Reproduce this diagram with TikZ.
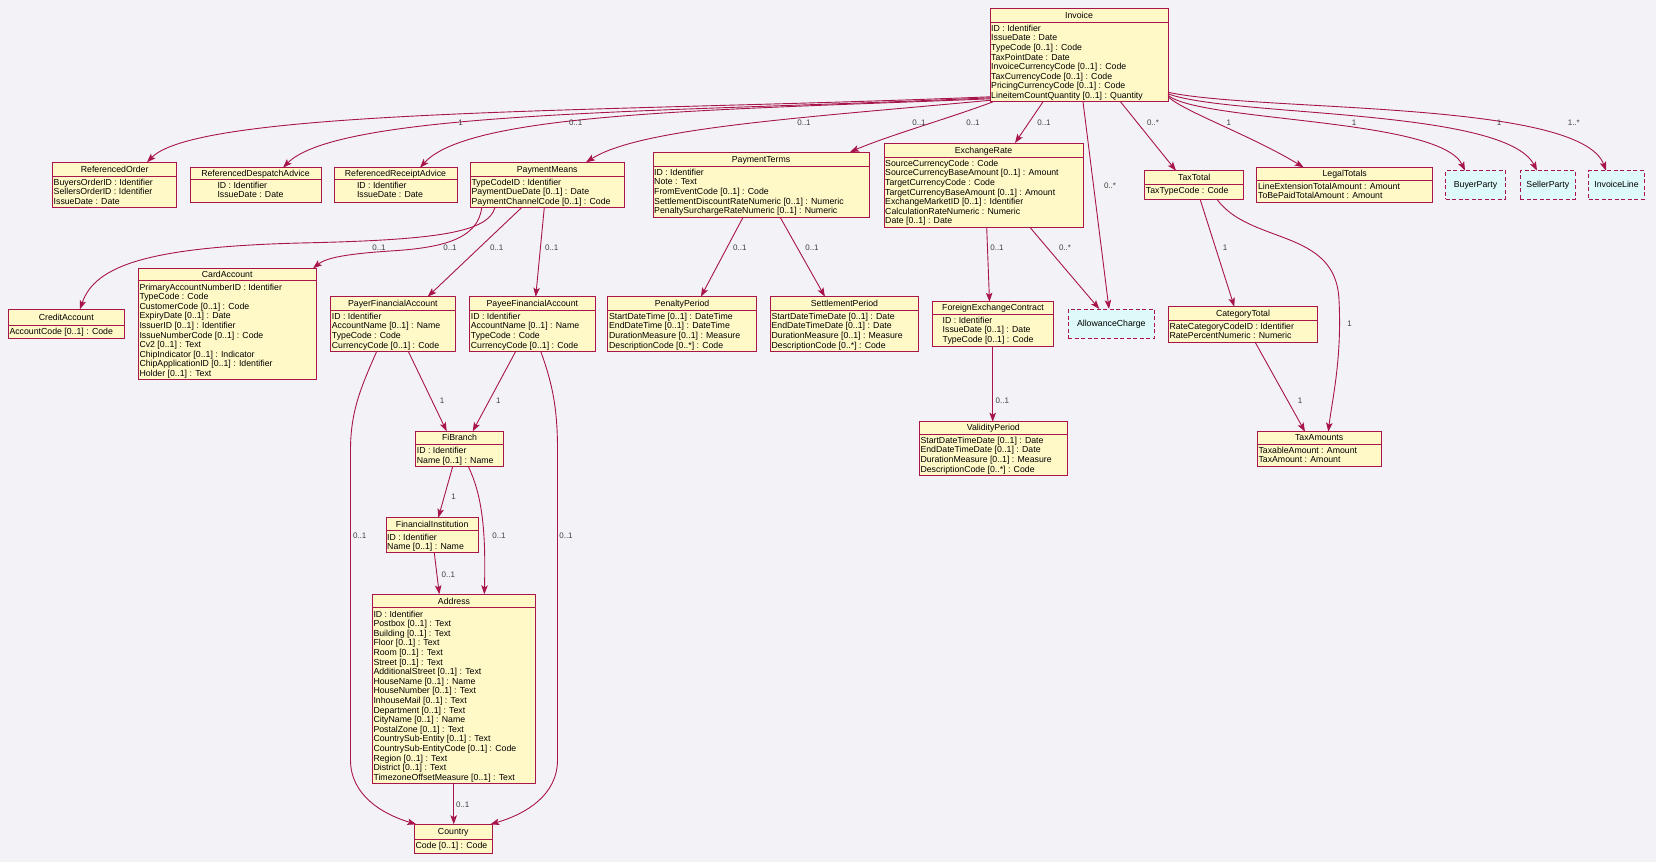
\documentclass[tikz,border=0pt]{standalone}
\usepackage{fontspec}
\setmainfont{Liberation Sans}
\usetikzlibrary{arrows.meta}
\definecolor{bgc}{HTML}{F3F3F7}
\definecolor{clsfill}{HTML}{FFF9C8}
\definecolor{brd}{HTML}{A8144C}
\definecolor{reffill}{HTML}{DDF9F9}
\definecolor{lblc}{HTML}{404040}
\tikzset{
 classbox/.style={draw=brd, fill=clsfill, line width=0.9pt, inner sep=0pt, outer sep=0pt},
 refbox/.style={draw=brd, fill=reffill, line width=0.9pt, dash pattern=on 4pt off 2.5pt, inner sep=0pt, outer sep=0pt},
 sepline/.style={draw=brd, line width=0.9pt},
 txt/.style={inner sep=0pt, outer sep=0pt, font=\fontsize{8.75}{9.6}\selectfont, text=black},
 lbl/.style={inner sep=0pt, outer sep=0pt, font=\fontsize{8}{9}\selectfont, text=lblc},
 conn/.style={draw=brd, line width=0.9pt, -{Stealth[length=9pt,width=6.5pt,inset=2pt]}},
}
% name, left, top, right, separator, bottom, title, text x, lines
\newcommand{\umlclass}[9]{%
 \pgfmathsetmacro{\uw}{#4-#2}\pgfmathsetmacro{\uh}{#6-#3}%
 \node[classbox, minimum width=\uw pt, minimum height=\uh pt, anchor=north west] (#1) at (#2,-#3) {};
 \draw[sepline] (#2,-#5) -- (#4,-#5);
 \node[txt, anchor=base] (#1-title) at ({(#2+#4)/2},{-(#3+#5)/2-3.1}) {#7};
 \foreach \itm [count=\cnt] in {#9} {\node[txt, anchor=base west] (#1-\cnt) at (#8,{-(#5+9.3+9.6*(\cnt-1))}) {\itm};}
}
% name, left, top, right, bottom, title
\newcommand{\umlref}[6]{%
 \pgfmathsetmacro{\uw}{#4-#2}\pgfmathsetmacro{\uh}{#5-#3}%
 \node[refbox, minimum width=\uw pt, minimum height=\uh pt, anchor=north west] (#1) at (#2,-#3) {};
 \node[txt, anchor=base] (#1-title) at ({(#2+#4)/2},{-(#3+#5)/2-3.1}) {#6};
}
\begin{document}
\begin{tikzpicture}[x=1pt,y=1pt]
\useasboundingbox (0,0) rectangle (1656,-862);
\fill[bgc] (0,0) rectangle (1656,-862);

\umlclass{inv}{990}{8}{1168}{22}{101.8}{Invoice}{991.2}{{ID : Identifier},{IssueDate : Date},{TypeCode [0..1] : Code},{TaxPointDate : Date},{InvoiceCurrencyCode [0..1] : Code},{TaxCurrencyCode [0..1] : Code},{PricingCurrencyCode [0..1] : Code},{LineitemCountQuantity [0..1] : Quantity}}
\umlclass{refo}{52.5}{162.3}{176.8}{176}{207.5}{ReferencedOrder}{53.7}{{BuyersOrderID : Identifier},{SellersOrderID : Identifier},{IssueDate : Date}}
\umlclass{refd}{190}{167.7}{321}{179}{202.3}{ReferencedDespatchAdvice}{217.5}{{ID : Identifier},{IssueDate : Date}}
\umlclass{refr}{334}{167.7}{457}{179}{202.3}{ReferencedReceiptAdvice}{357}{{ID : Identifier},{IssueDate : Date}}
\umlclass{pm}{470.4}{162.3}{624}{176}{207.5}{PaymentMeans}{471.6}{{TypeCodeID : Identifier},{PaymentDueDate [0..1] : Date},{PaymentChannelCode [0..1] : Code}}
\umlclass{pt}{653}{152}{869}{166}{217}{PaymentTerms}{654.2}{{ID : Identifier},{Note : Text},{FromEventCode [0..1] : Code},{SettlementDiscountRateNumeric [0..1] : Numeric},{PenaltySurchargeRateNumeric [0..1] : Numeric}}
\umlclass{er}{884}{143}{1083}{157}{227.2}{ExchangeRate}{885.2}{{SourceCurrencyCode : Code},{SourceCurrencyBaseAmount [0..1] : Amount},{TargetCurrencyCode : Code},{TargetCurrencyBaseAmount [0..1] : Amount},{ExchangeMarketID [0..1] : Identifier},{CalculationRateNumeric : Numeric},{Date [0..1] : Date}}
\umlclass{tt}{1144.7}{170.7}{1243.8}{184.3}{199}{TaxTotal}{1145.9}{{TaxTypeCode : Code}}
\umlclass{lt}{1256.9}{167.3}{1432.5}{180}{202.3}{LegalTotals}{1258.1}{{LineExtensionTotalAmount : Amount},{ToBePaidTotalAmount : Amount}}
\umlref{buyer}{1445.6}{170.7}{1505.4}{199}{BuyerParty}
\umlref{seller}{1520.3}{170.7}{1575.3}{199}{SellerParty}
\umlref{invline}{1588.7}{170.7}{1644.4}{199}{InvoiceLine}
\umlclass{credit}{8.3}{309.3}{124.3}{325}{338.3}{CreditAccount}{9.5}{{AccountCode [0..1] : Code}}
\umlclass{card}{138.3}{268.3}{316}{280.7}{379.5}{CardAccount}{139.5}{{PrimaryAccountNumberID : Identifier},{TypeCode : Code},{CustomerCode [0..1] : Code},{ExpiryDate [0..1] : Date},{IssuerID [0..1] : Identifier},{IssueNumberCode [0..1] : Code},{Cv2 [0..1] : Text},{ChipIndicator [0..1] : Indicator},{ChipApplicationID [0..1] : Identifier},{Holder [0..1] : Text}}
\umlclass{payer}{330.7}{296.7}{455}{310}{351.4}{PayerFinancialAccount}{331.9}{{ID : Identifier},{AccountName [0..1] : Name},{TypeCode : Code},{CurrencyCode [0..1] : Code}}
\umlclass{payee}{469.7}{296.7}{595}{310}{351.4}{PayeeFinancialAccount}{470.9}{{ID : Identifier},{AccountName [0..1] : Name},{TypeCode : Code},{CurrencyCode [0..1] : Code}}
\umlclass{penalty}{607.9}{296.7}{756.3}{310}{351.4}{PenaltyPeriod}{609.1}{{StartDateTime [0..1] : DateTime},{EndDateTime [0..1] : DateTime},{DurationMeasure [0..1] : Measure},{DescriptionCode [0..*] : Code}}
\umlclass{settle}{770.4}{296.7}{918.5}{310}{351.4}{SettlementPeriod}{771.6}{{StartDateTimeDate [0..1] : Date},{EndDateTimeDate [0..1] : Date},{DurationMeasure [0..1] : Measure},{DescriptionCode [0..*] : Code}}
\umlclass{fec}{932.7}{301.7}{1053.3}{314}{346}{ForeignExchangeContract}{942.7}{{ID : Identifier},{IssueDate [0..1] : Date},{TypeCode [0..1] : Code}}
\umlref{allow}{1068.3}{309}{1154.3}{338.3}{AllowanceCharge}
\umlclass{cat}{1168.3}{306.7}{1317.7}{320}{342}{CategoryTotal}{1169.5}{{RateCategoryCodeID : Identifier},{RatePercentNumeric : Numeric}}
\umlclass{taxam}{1257.3}{431.7}{1381}{444}{466}{TaxAmounts}{1258.5}{{TaxableAmount : Amount},{TaxAmount : Amount}}
\umlclass{fib}{415.7}{431.3}{503.3}{444.3}{466.5}{FiBranch}{416.9}{{ID : Identifier},{Name [0..1] : Name}}
\umlclass{fin}{386}{517.7}{478.3}{530.7}{552.9}{FinancialInstitution}{387.2}{{ID : Identifier},{Name [0..1] : Name}}
\umlclass{addr}{372.3}{594.3}{535.7}{607.7}{783.5}{Address}{373.5}{{ID : Identifier},{Postbox [0..1] : Text},{Building [0..1] : Text},{Floor [0..1] : Text},{Room [0..1] : Text},{Street [0..1] : Text},{AdditionalStreet [0..1] : Text},{HouseName [0..1] : Name},{HouseNumber [0..1] : Text},{InhouseMail [0..1] : Text},{Department [0..1] : Text},{CityName [0..1] : Name},{PostalZone [0..1] : Text},{CountrySub-Entity [0..1] : Text},{CountrySub-EntityCode [0..1] : Code},{Region [0..1] : Text},{District [0..1] : Text},{TimezoneOffsetMeasure [0..1] : Text}}
\umlclass{country}{414.3}{824.3}{492.3}{839}{853.3}{Country}{415.5}{{Code [0..1] : Code}}
\umlclass{vp}{919.3}{421.7}{1067.3}{434}{475.4}{ValidityPeriod}{920.5}{{StartDateTimeDate [0..1] : Date},{EndDateTimeDate [0..1] : Date},{DurationMeasure [0..1] : Measure},{DescriptionCode [0..*] : Code}}

% Invoice connectors
\draw[conn] ([yshift=5]inv.south west) .. controls (620,-112) and (200,-108) .. ([xshift=94.5]refo.north west);
\draw[conn] ([yshift=4]inv.south west) .. controls (680,-112) and (340,-110) .. ([xshift=93]refd.north west);
\draw[conn] ([yshift=3]inv.south west) .. controls (720,-110) and (470,-112) .. ([xshift=86]refr.north west);
\draw[conn] ([yshift=1.5]inv.south west) .. controls (800,-118) and (640,-128) .. ([xshift=115.6]pm.north west);
\draw[conn] ([xshift=3]inv.south west) .. controls (950,-118) and (890,-135) .. ([xshift=197]pt.north west);
\draw[conn] ([xshift=53]inv.south west) -- ([xshift=131]er.north west);
\draw[conn] ([xshift=93]inv.south west) -- ([xshift=40.7]allow.north west);
\draw[conn] ([xshift=130.5]inv.south west) -- ([xshift=31.3]tt.north west);
\draw[conn] ([yshift=5]inv.south east) .. controls (1185,-112) and (1250,-135) .. ([xshift=46.7]lt.north west);
\draw[conn] ([yshift=6.5]inv.south east) .. controls (1200,-122) and (1440,-118) .. ([xshift=19.4]buyer.north west);
\draw[conn] ([yshift=8]inv.south east) .. controls (1230,-117) and (1505,-108) .. ([xshift=16.7]seller.north west);
\draw[conn] ([yshift=9.5]inv.south east) .. controls (1260,-112) and (1580,-100) .. ([xshift=17.3]invline.north west);

% PaymentMeans connectors
\draw[conn] ([xshift=24.6]pm.south west) .. controls (488,-232) and (440,-240) .. (300,-243) .. controls (150,-247) and (95,-265) .. ([xshift=71.7]credit.north west);
\draw[conn] ([xshift=11.3]pm.south west) .. controls (478,-240) and (440,-248) .. (390,-251) .. controls (345,-254) and (326,-258) .. ([xshift=-3]card.north east);
\draw[conn] ([xshift=51.3]pm.south west) -- ([xshift=97]payer.north west);
\draw[conn] ([xshift=73.9]pm.south west) -- ([xshift=66]payee.north west);

% PaymentTerms, ExchangeRate
\draw[conn] ([xshift=90.2]pt.south west) -- ([xshift=93]penalty.north west);
\draw[conn] ([xshift=127]pt.south west) -- ([xshift=54.5]settle.north west);
\draw[conn] ([xshift=102.7]er.south west) -- ([xshift=56.8]fec.north west);
\draw[conn] ([xshift=145.8]er.south west) -- ([xshift=31]allow.north west);
\draw[conn] ([xshift=60]fec.south west) -- ([xshift=73.4]vp.north west);

% TaxTotal
\draw[conn] ([xshift=55.3]tt.south west) -- ([xshift=66]cat.north west);
\draw[conn] ([xshift=72]tt.south west) .. controls (1250,-245) and (1336,-228) .. (1339,-300) .. controls (1342,-360) and (1332,-400) .. ([xshift=71]taxam.north west);
\draw[conn] ([xshift=86.7]cat.south west) -- ([xshift=47.7]taxam.north west);

% Financial accounts
\draw[conn] ([xshift=77.6]payer.south west) -- ([xshift=31]fib.north west);
\draw[conn] ([xshift=46]payee.south west) -- ([xshift=57]fib.north west);
\draw[conn] ([xshift=37]fib.south west) -- ([xshift=52.3]fin.north west);
\draw[conn] ([xshift=52.6]fib.south west) .. controls (482,-495) and (486,-530) .. ([xshift=112]addr.north west);
\draw[conn] ([xshift=48.3]fin.south west) -- ([xshift=67]addr.north west);
\draw[conn] ([xshift=81.4]addr.south west) -- ([xshift=39.4]country.north west);
\draw[conn] ([xshift=46]payer.south west) .. controls (362,-385) and (350.5,-410) .. (350.5,-450) -- (350.5,-760) .. controls (350.5,-795) and (382,-814) .. ([xshift=2]country.north west);
\draw[conn] ([xshift=71]payee.south west) .. controls (553,-385) and (557.5,-410) .. (557.5,-450) -- (557.5,-760) .. controls (557.5,-795) and (526,-814) .. ([xshift=-2]country.north east);

% multiplicity labels
\node[lbl] (m1) at (460.7,-123) {1};
\node[lbl] (m2) at (575.7,-123) {0..1};
\node[lbl] (m3) at (804,-123) {0..1};
\node[lbl] (m4) at (919,-123) {0..1};
\node[lbl] (m5) at (973,-123) {0..1};
\node[lbl] (m6) at (1044,-123) {0..1};
\node[lbl] (m7) at (1153,-123) {0..*};
\node[lbl] (m8) at (1228.8,-123) {1};
\node[lbl] (m9) at (1354,-123) {1};
\node[lbl] (m10) at (1499,-123) {1};
\node[lbl] (m11) at (1573.8,-123) {1..*};
\node[lbl] (m12) at (1110,-185.7) {0..*};
\node[lbl] (m13) at (379,-247.7) {0..1};
\node[lbl] (m14) at (450,-247.7) {0..1};
\node[lbl] (m15) at (496.7,-247.7) {0..1};
\node[lbl] (m16) at (551.7,-247.7) {0..1};
\node[lbl] (m17) at (739.8,-247.7) {0..1};
\node[lbl] (m18) at (812,-247.7) {0..1};
\node[lbl] (m19) at (997,-247.7) {0..1};
\node[lbl] (m20) at (1065,-247.7) {0..*};
\node[lbl] (m21) at (1225,-247.7) {1};
\node[lbl] (m22) at (1349.6,-324) {1};
\node[lbl] (m23) at (1300,-401) {1};
\node[lbl] (m24) at (1002.3,-401) {0..1};
\node[lbl] (m25) at (442,-401) {1};
\node[lbl] (m26) at (498.3,-401) {1};
\node[lbl] (m27) at (453.7,-496.7) {1};
\node[lbl] (m28) at (359.7,-535.7) {0..1};
\node[lbl] (m29) at (499,-535.7) {0..1};
\node[lbl] (m30) at (566,-535.7) {0..1};
\node[lbl] (m31) at (448.3,-574.3) {0..1};
\node[lbl] (m32) at (462.7,-804.3) {0..1};
\end{tikzpicture}
\end{document}
